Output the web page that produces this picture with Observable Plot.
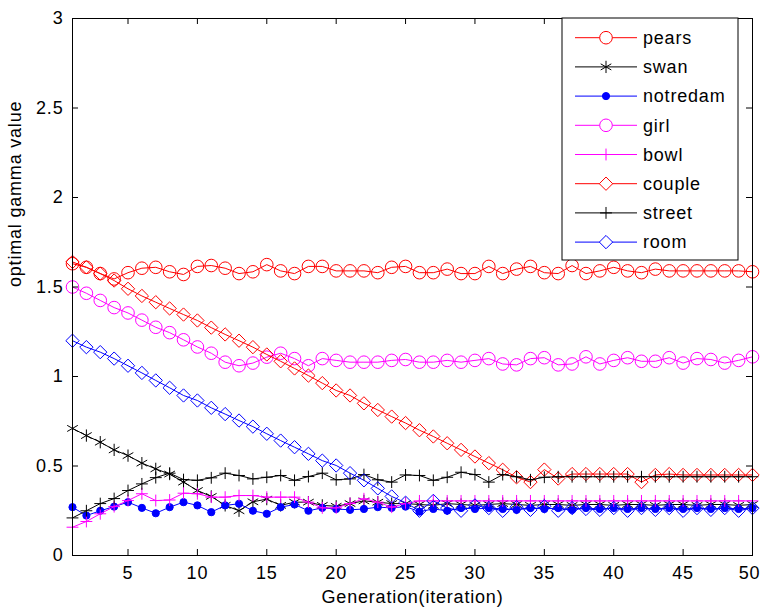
<!DOCTYPE html>
<html>
<head>
<meta charset="utf-8">
<script src="https://cdn.jsdelivr.net/npm/d3@7"></script>
<script src="https://cdn.jsdelivr.net/npm/@observablehq/plot@0.6"></script>
<style>
  body { margin: 0; background: #fff; }
  #chart svg text { letter-spacing: 0.8px; }
</style>
</head>
<body>
<div id="chart"></div>
<script>
// ---- data ----
const generation = [1,2,3,4,5,6,7,8,9,10,11,12,13,14,15,16,17,18,19,20,21,22,23,24,25,
  26,27,28,29,30,31,32,33,34,35,36,37,38,39,40,41,42,43,44,45,46,47,48,49,50];

const seriesNames = ["pears", "swan", "notredam", "girl", "bowl", "couple", "street", "room"];
const seriesColors = ["#ff0000", "#000000", "#0000ff", "#ff00ff", "#ff00ff", "#ff0000", "#000000", "#0000ff"];
const seriesSymbols = ["circle", "asterisk", "circle", "circle", "plus", "diamond2", "plus", "diamond2"];

const pears = [1.63,1.61,1.575,1.545,1.58,1.605,1.61,1.585,1.57,1.615,
  1.62,1.605,1.575,1.585,1.625,1.59,1.575,1.615,1.615,1.59,
  1.59,1.59,1.58,1.61,1.615,1.58,1.58,1.6,1.575,1.575,
  1.615,1.575,1.6,1.615,1.58,1.575,1.62,1.575,1.59,1.61,
  1.59,1.58,1.6,1.59,1.59,1.59,1.59,1.59,1.59,1.585];
const swan = [0.71,0.67,0.633,0.59,0.558,0.516,0.484,0.455,0.41,0.363,
  0.33,0.28,0.25,0.3,0.315,0.28,0.298,0.298,0.28,0.275,
  0.29,0.305,0.298,0.29,0.29,0.285,0.28,0.29,0.285,0.28,
  0.285,0.29,0.285,0.28,0.285,0.285,0.28,0.285,0.285,0.28,
  0.285,0.285,0.28,0.285,0.285,0.28,0.285,0.285,0.28,0.285];
const notredam = [0.27,0.223,0.25,0.273,0.298,0.266,0.236,0.27,0.298,0.28,
  0.242,0.28,0.289,0.25,0.233,0.27,0.285,0.25,0.266,0.26,
  0.255,0.26,0.27,0.266,0.273,0.245,0.26,0.25,0.265,0.26,
  0.265,0.26,0.255,0.265,0.26,0.265,0.255,0.265,0.26,0.265,
  0.26,0.265,0.26,0.265,0.26,0.265,0.26,0.265,0.26,0.265];
const girl = [1.50,1.465,1.425,1.385,1.355,1.315,1.275,1.245,1.205,1.165,
  1.13,1.08,1.06,1.075,1.108,1.13,1.1,1.06,1.1,1.09,
  1.08,1.08,1.08,1.09,1.095,1.08,1.08,1.09,1.08,1.09,
  1.1,1.07,1.065,1.1,1.105,1.065,1.07,1.11,1.07,1.09,
  1.105,1.085,1.085,1.105,1.075,1.1,1.095,1.075,1.09,1.11];
const bowl = [0.158,0.19,0.233,0.273,0.307,0.345,0.307,0.31,0.348,0.345,
  0.326,0.326,0.335,0.335,0.326,0.326,0.326,0.298,0.266,0.266,
  0.29,0.317,0.298,0.27,0.29,0.305,0.305,0.305,0.305,0.305,
  0.305,0.305,0.305,0.305,0.305,0.305,0.305,0.305,0.305,0.305,
  0.305,0.305,0.305,0.305,0.305,0.305,0.305,0.305,0.305,0.305];
const couple = [1.64,1.61,1.575,1.536,1.49,1.45,1.415,1.38,1.346,1.313,
  1.273,1.235,1.2,1.164,1.123,1.085,1.045,1.005,0.963,0.922,
  0.894,0.85,0.813,0.776,0.74,0.70,0.665,0.627,0.59,0.553,
  0.516,0.479,0.437,0.41,0.48,0.43,0.455,0.455,0.455,0.455,
  0.455,0.41,0.45,0.455,0.45,0.45,0.45,0.45,0.45,0.45];
const street = [0.21,0.25,0.29,0.318,0.363,0.40,0.435,0.46,0.424,0.42,
  0.434,0.46,0.447,0.428,0.437,0.447,0.42,0.441,0.46,0.423,
  0.428,0.452,0.423,0.41,0.45,0.447,0.42,0.437,0.465,0.452,
  0.41,0.452,0.44,0.423,0.437,0.44,0.44,0.44,0.44,0.44,
  0.44,0.44,0.44,0.44,0.44,0.44,0.44,0.44,0.44,0.44];
const room = [1.20,1.164,1.136,1.10,1.06,1.02,0.978,0.937,0.894,0.866,
  0.825,0.79,0.754,0.72,0.68,0.642,0.605,0.568,0.53,0.503,
  0.46,0.42,0.375,0.33,0.295,0.25,0.305,0.265,0.25,0.28,
  0.265,0.25,0.27,0.255,0.275,0.25,0.265,0.26,0.255,0.265,
  0.25,0.265,0.255,0.265,0.25,0.265,0.255,0.265,0.25,0.265];

const xTicks = [5,10,15,20,25,30,35,40,45,50];
const xTickLabels = ["5","10","15","20","25","30","35","40","45","50"];
const yTicks = [0,0.5,1,1.5,2,2.5,3];
const yTickLabels = ["0","0.5","1","1.5","2","2.5","3"];
const xLabel = "Generation(iteration)";
const yLabel = "optimal gamma value";

// ---- build ----
const seriesValues = [pears, swan, notredam, girl, bowl, couple, street, room];
const markerR = {circle: 6.3, asterisk: 5.8, plus: 3.9, diamond2: 6, dot: 3.6};

const rows = [];
seriesNames.forEach((name, s) => {
  seriesValues[s].forEach((v, i) => rows.push({name, gen: generation[i], value: v}));
});

const W = 760, H = 608, mL = 72, mR = 8, mT = 18, mB = 53;
const plotW = W - mL - mR, plotH = H - mT - mB;

const seriesMarks = [];
seriesNames.forEach((name, s) => {
  const data = rows.filter(d => d.name === name);
  const color = seriesColors[s];
  const filled = name === "notredam";
  seriesMarks.push(Plot.line(data, {x: "gen", y: "value", stroke: color, strokeWidth: 1}));
  seriesMarks.push(Plot.dot(data, {
    x: "gen", y: "value",
    symbol: seriesSymbols[s],
    r: filled ? markerR.dot : markerR[seriesSymbols[s]],
    stroke: color, strokeWidth: 1,
    fill: filled ? color : "none"
  }));
});

const lastTick = xTicks[xTicks.length - 1];

const chart = Plot.plot({
  width: W, height: H,
  marginLeft: mL, marginRight: mR, marginTop: mT, marginBottom: mB,
  x: {domain: [1, 50], axis: null},
  y: {domain: [0, 3], axis: null},
  style: {fontFamily: "'Liberation Sans', Arial, sans-serif", fontSize: "18px", background: "white", color: "black"},
  marks: [
    ...seriesMarks,
    Plot.frame({stroke: "black", strokeWidth: 1}),
    Plot.tickX(xTicks, {x: d => d, insetTop: plotH - 6, stroke: "black"}),
    Plot.tickX(xTicks, {x: d => d, insetBottom: plotH - 6, stroke: "black"}),
    Plot.tickY(yTicks, {y: d => d, insetRight: plotW - 6, stroke: "black"}),
    Plot.tickY(yTicks, {y: d => d, insetLeft: plotW - 6, stroke: "black"}),
    Plot.text(xTicks, {filter: d => d !== lastTick, x: d => d, text: (d, i) => xTickLabels[i], frameAnchor: "bottom", dy: 23, fill: "black"}),
    Plot.text(xTicks, {filter: d => d === lastTick, x: d => d, text: (d, i) => xTickLabels[i], frameAnchor: "bottom", dx: -3, dy: 23, fill: "black"}),
    Plot.text(yTicks, {y: d => d, text: (d, i) => yTickLabels[i], frameAnchor: "left", dx: -9, textAnchor: "end", fill: "black"}),
    Plot.text([xLabel], {text: d => d, frameAnchor: "bottom", dy: 47, fill: "black"}),
    Plot.text([yLabel], {text: d => d, frameAnchor: "left", rotate: -90, dx: -57, fill: "black"})
  ]
});

document.getElementById("chart").appendChild(chart);

// ---- legend (inside the axes, top right) ----
const svg = d3.select(chart);
const symMap = {circle: d3.symbolCircle, asterisk: d3.symbolAsterisk, plus: d3.symbolPlus, diamond2: d3.symbolDiamond2};
const lg = svg.append("g").attr("class", "legend");
const boxX = 562, boxY = mT, boxW = 176, boxH = 242;
lg.append("rect").attr("x", boxX).attr("y", boxY).attr("width", boxW).attr("height", boxH)
  .attr("fill", "white").attr("stroke", "black").attr("stroke-width", 1);
seriesNames.forEach((name, s) => {
  const cy = boxY + 19.7 + s * 29.2;
  const color = seriesColors[s];
  const filled = name === "notredam";
  const r = filled ? markerR.dot : markerR[seriesSymbols[s]];
  lg.append("line").attr("x1", boxX + 13).attr("x2", boxX + 75).attr("y1", cy).attr("y2", cy)
    .attr("stroke", color).attr("stroke-width", 1);
  lg.append("path")
    .attr("d", d3.symbol(symMap[seriesSymbols[s]], Math.PI * r * r)())
    .attr("transform", `translate(${boxX + 44},${cy})`)
    .attr("fill", filled ? color : "white")
    .attr("stroke", color).attr("stroke-width", 1);
  lg.append("text").attr("x", boxX + 81).attr("y", cy).attr("dy", "0.35em")
    .attr("text-anchor", "start")
    .attr("fill", "black").style("font-size", "18px")
    .text(name);
});
</script>
</body>
</html>
